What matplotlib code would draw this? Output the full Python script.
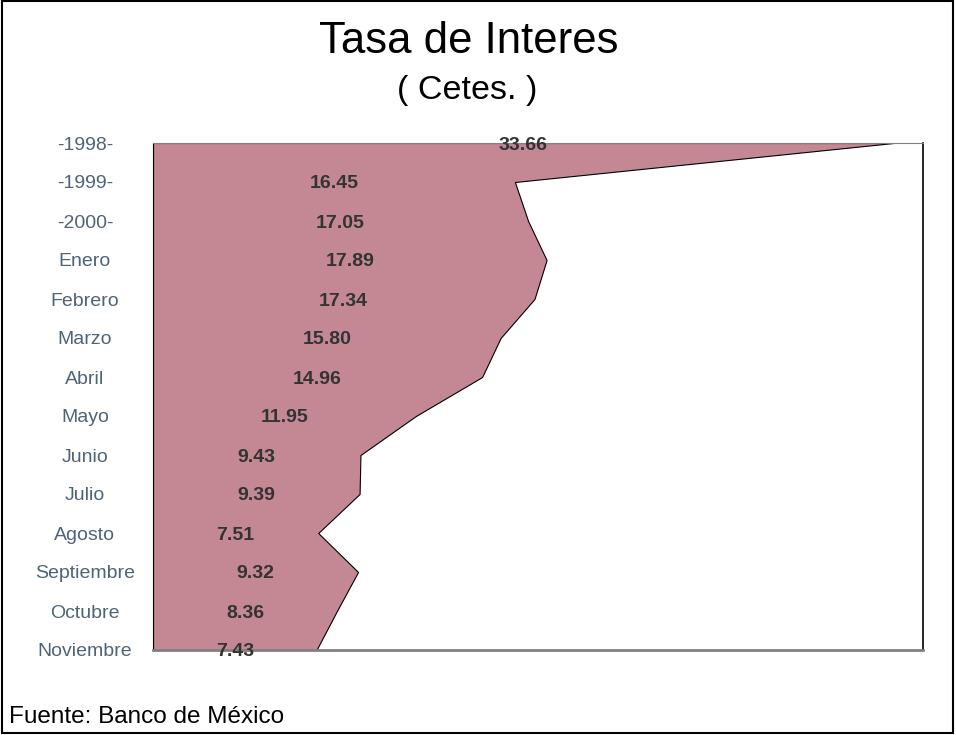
import matplotlib
matplotlib.use("Agg")
import matplotlib.pyplot as plt
from matplotlib.patches import Rectangle

plt.rcParams['font.family'] = ['Liberation Sans', 'DejaVu Sans']

# data
meses = ['-1998-', '-1999-', '-2000-', 'Enero', 'Febrero', 'Marzo', 'Abril',
         'Mayo', 'Junio', 'Julio', 'Agosto', 'Septiembre', 'Octubre', 'Noviembre']
tasa = [33.66, 16.45, 17.05, 17.89, 17.34, 15.80, 14.96,
        11.95, 9.43, 9.39, 7.51, 9.32, 8.36, 7.43]

W, H = 956, 735
fig = plt.figure(figsize=(W / 100, H / 100), dpi=100)

# axes box in pixels: left 153, right 923, top 143, bottom 650
ax = fig.add_axes([153 / W, 1 - 650 / H, (923 - 153) / W, (650 - 143) / H])

pos = list(range(len(meses)))
ax.fill_betweenx(pos, 0, tasa, facecolor='#c38893', edgecolor='black',
                 linewidth=0.8, zorder=2)

for y, v in zip(pos, tasa):
    ax.text(v / 2, y, f'{v:.2f}', ha='center', va='center_baseline',
            fontsize=14, fontweight='bold', color='#333333', zorder=3)

ax.set_xlim(0, 35)
ax.set_ylim(len(meses) - 1, 0)
ax.set_xticks([])
ax.set_yticks(pos)
ax.set_yticklabels(meses, fontsize=14, color='#4f6479', ha='center',
                   va='center_baseline')
ax.tick_params(axis='y', length=0, pad=49)

# spines
ax.spines['left'].set_color('black')
ax.spines['left'].set_linewidth(0.8)
ax.spines['right'].set_color('black')
ax.spines['right'].set_linewidth(1.2)
ax.spines['top'].set_color('#808080')
ax.spines['top'].set_linewidth(0.8)
ax.spines['bottom'].set_color('#808080')
ax.spines['bottom'].set_linewidth(2)

# titles
fig.text(469 / W, 1 - 53 / H, 'Tasa de Interes', ha='center', va='baseline',
         fontsize=31.5, color='black')
fig.text(467 / W, 1 - 99 / H, '( Cetes. )', ha='center', va='baseline',
         fontsize=24.5, color='black')

# source
fig.text(9 / W, 1 - 723 / H, 'Fuente: Banco de México', ha='left',
         va='baseline', fontsize=17.5, color='black')

# figure border
fig.patches.append(Rectangle((1.5 / W, 1 - 733 / H), (952.5 - 1.5) / W,
                             (733 - 1) / H, transform=fig.transFigure,
                             fill=False, edgecolor='black', linewidth=1.5))

fig.savefig('out.png', dpi=100)
